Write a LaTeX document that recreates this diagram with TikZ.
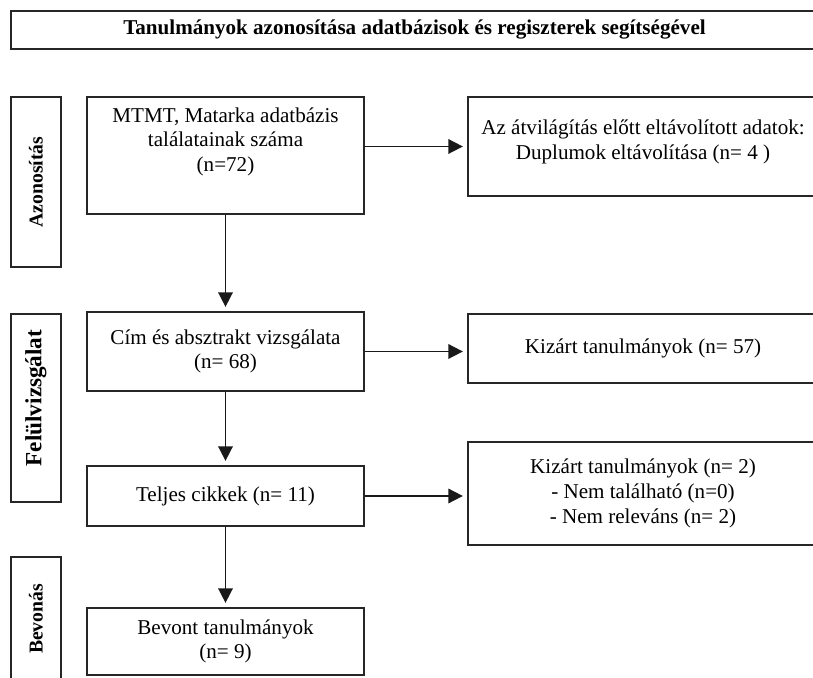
\documentclass[tikz,border=0pt]{standalone}
\usepackage{fontspec}
\setmainfont{Liberation Serif}
\usetikzlibrary{arrows.meta}

\begin{document}
\begin{tikzpicture}[
    x=1cm,y=1cm,
    box/.style={draw=black!85, line width=1.3pt, minimum width=6.925cm, inner sep=2pt, align=center, font=\fontsize{15}{17.5}\selectfont},
    outbox/.style={box, minimum width=8.75cm},
    phase/.style={draw=black!85, line width=1.3pt, rotate=90, minimum height=1.25cm, inner sep=2pt, font=\fontsize{14}{16}\selectfont\bfseries},
    edge/.style={-{Triangle[length=3.6mm,width=3.6mm]}, draw=black!90, line width=1.2pt, shorten >=3pt}
  ]
    \useasboundingbox (0,0) rectangle (20.325,16.95);

    \node[box, minimum width=20.175cm, minimum height=0.95cm, font=\fontsize{15}{17}\selectfont\bfseries] (title) at (10.3625,16.2) {Tanulmányok azonosítása adatbázisok és regiszterek segítségével};

    \node[phase, minimum width=4.25cm] (azon) at (0.9,12.4) {Azonosítás};
    \node[phase, minimum width=4.7cm, font=\fontsize{16.5}{18}\selectfont\bfseries] (felul) at (0.9,6.75) {\hspace*{0.5cm}Felülvizsgálat};
    \node[phase, minimum width=3.1cm] (bevon) at (0.9,1.475) {Bevonás};

    \node[box, minimum height=2.925cm] (talalat) at (5.6375,13.0625) {MTMT, Matarka adatbázis\\találatainak száma\\(n=72)\\\strut};
    \node[outbox, minimum height=2.475cm] (duplum) at (16.075,13.2875) {Az átvilágítás előtt eltávolított adatok:\\Duplumok eltávolítása (n= 4 )\\[-8pt]};
    \node[box, minimum height=1.975cm] (cim) at (5.6375,8.1625) {Cím és absztrakt vizsgálata\\(n= 68)};
    \node[outbox, minimum height=1.725cm] (kizart1) at (16.075,8.2375) {Kizárt tanulmányok (n= 57)};
    \node[box, minimum height=1.5cm] (teljes) at (5.6375,4.55) {Teljes cikkek (n= 11)};
    \node[outbox, minimum height=2.575cm] (kizart2) at (16.075,4.6125) {Kizárt tanulmányok (n= 2)\\- Nem található (n=0)\\- Nem releváns (n= 2)};
    \node[box, minimum height=1.675cm] (bevont) at (5.6375,0.9125) {Bevont tanulmányok\\(n= 9)};

    \draw[edge] (talalat.east |- duplum.west) -- (duplum.west);
    \draw[edge] (talalat) -- (cim);
    \draw[edge] (cim) -- (cim -| kizart1.west);
    \draw[edge] (cim) -- (teljes);
    \draw[edge] (teljes) -- (teljes -| kizart2.west);
    \draw[edge] (teljes) -- (bevont);
  \end{tikzpicture}
\end{document}
